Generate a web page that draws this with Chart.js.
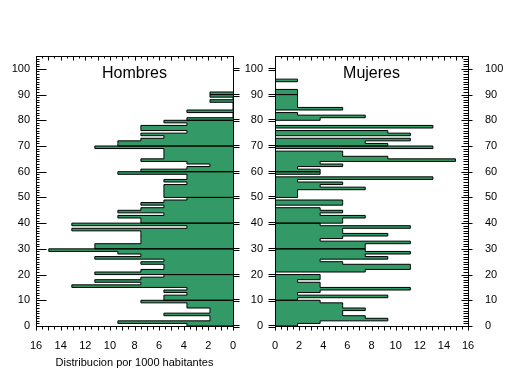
<!DOCTYPE html>
<html lang="es">
<head>
<meta charset="UTF-8">
<title>Piramide de poblacion</title>
<script src="https://cdn.jsdelivr.net/npm/chart.js"></script>
<style>
  body { margin: 0; background: #fff; }
  #wrap { position: relative; width: 509px; height: 376px; }
  canvas { position: absolute; top: 0; }
  #cHombres { left: 0; }
  #cMujeres { left: 236px; }
</style>
</head>
<body>
<div id="wrap">
  <canvas id="cHombres" width="250" height="376"></canvas>
  <canvas id="cMujeres" width="273" height="376"></canvas>
</div>
<script>
// distribucion por 1000 habitantes, una entrada por edad (0, 1, 2 ...)
var hombres = [
  3.74, 9.35, 1.87, 1.87, 5.61, 1.87, 1.87, 3.74, 3.74, 7.48,
  5.61, 5.61, 3.74, 5.61, 3.74, 13.09, 7.48, 11.22, 7.48, 5.61,
  11.22, 7.48, 5.61, 5.61, 7.48, 5.61, 11.22, 7.48, 9.35, 14.96,
  11.22, 11.22, 7.48, 7.48, 7.48, 7.48, 7.48, 13.09, 3.74, 13.09,
  7.48, 7.48, 9.35, 5.61, 9.35, 7.48, 5.61, 7.48, 5.61, 3.74,
  5.61, 5.61, 5.61, 5.61, 5.61, 3.74, 5.61, 3.74, 3.74, 9.35,
  7.48, 3.74, 1.87, 3.74, 7.48, 5.61, 5.61, 5.61, 5.61, 11.22,
  9.35, 9.35, 7.48, 5.61, 7.48, 3.74, 7.48, 7.48, 3.74, 5.61,
  3.74, 0, 0, 3.74, 0, 0, 0, 1.87, 0, 1.87,
  1.87
];
var mujeres = [
  1.87, 3.74, 9.35, 7.48, 5.61, 5.61, 7.48, 5.61, 5.61, 3.74,
  1.87, 9.35, 1.87, 3.74, 11.22, 3.74, 3.74, 1.87, 3.74, 3.74,
  0, 7.48, 11.22, 11.22, 5.61, 3.74, 9.35, 7.48, 11.22, 7.48,
  7.48, 7.48, 11.22, 3.74, 5.61, 9.35, 5.61, 5.61, 11.22, 3.74,
  5.61, 5.61, 7.48, 3.74, 5.61, 3.74, 0, 5.61, 5.61, 0,
  1.87, 1.87, 1.87, 7.48, 3.74, 5.61, 1.87, 13.09, 0, 3.74,
  3.74, 1.87, 5.61, 3.74, 14.96, 9.35, 5.61, 5.61, 0, 13.09,
  9.35, 7.48, 11.22, 0, 11.22, 9.35, 0, 13.09, 0, 0,
  3.74, 7.48, 1.87, 0, 5.61, 1.87, 1.87, 1.87, 1.87, 1.87,
  1.87, 1.87, 0, 0, 0, 1.87
];

var VERDE = '#339966';
var FUENTE = "'Liberation Sans', Arial, sans-serif";

Chart.defaults.font.family = FUENTE;
Chart.defaults.font.size = 11;
Chart.defaults.color = '#000';

// contorno escalonado; vuelve al eje en cada decada para marcar la linea
function escalones(valores) {
  var pts = [{ x: 0, y: 0 }];
  valores.forEach(function (v, edad) {
    if (edad > 0 && edad % 10 === 0) pts.push({ x: 0, y: edad });
    pts.push({ x: v, y: edad });
  });
  pts.push({ x: 0, y: valores.length });
  return pts;
}

// marco y marcas de los ejes
function marco(lados) {
  return {
    id: 'marco',
    afterDraw: function (chart) {
      var ctx = chart.ctx;
      var a = chart.chartArea;
      var ys = chart.scales.y, xs = chart.scales.x;
      var L = Math.round(a.left) + 0.5, R = Math.round(a.right) + 0.5;
      var T = Math.round(a.top) + 0.5, B = Math.round(a.bottom) + 0.5;
      ctx.save();
      ctx.strokeStyle = '#000';
      ctx.lineWidth = 1;
      ctx.strokeRect(L, T, R - L, B - T);
      ctx.beginPath();
      for (var v = 0; v <= 105; v++) {
        var p = Math.round(ys.getPixelForValue(v)) + 0.5;
        var mayor = v % 10 === 0 && v <= 100;
        lados(v, mayor, L, R).forEach(function (s) {
          (s[2] ? [p - 1, p + 1] : [p]).forEach(function (yy) {
            ctx.moveTo(s[0], yy);
            ctx.lineTo(s[1], yy);
          });
        });
      }
      for (var u = 0; u <= 16; u += 0.5) {
        var q = Math.round(xs.getPixelForValue(u)) + 0.5;
        var entero = u % 1 === 0;
        ctx.moveTo(q, T);
        ctx.lineTo(q, T + (entero ? 4 : 2));
        ctx.moveTo(q, B);
        ctx.lineTo(q, B + (entero ? 4 : 3));
      }
      ctx.stroke();
      ctx.restore();
    }
  };
}

function opciones(titulo, invertido, ejeX, ejesY) {
  return {
    indexAxis: 'y',
    responsive: false,
    animation: false,
    events: [],
    layout: { padding: { left: 0, right: invertido ? 17 : 0, top: 0, bottom: 0 } },
    plugins: {
      legend: { display: false },
      tooltip: { enabled: false },
      title: {
        display: true,
        text: titulo,
        fullSize: false,
        color: '#000',
        font: { size: 16, weight: 'normal', family: FUENTE },
        padding: { top: 64.4, bottom: -27.6 }
      }
    },
    scales: Object.assign({
      x: {
        type: 'linear',
        reverse: invertido,
        min: 0,
        max: 16,
        position: 'bottom',
        grid: { display: false, drawTicks: false, tickLength: 0 },
        border: { display: false },
        ticks: { stepSize: 2, padding: 13, font: { size: 11 } },
        title: ejeX,
        afterFit: function (s) { s.height = 50; }
      }
    }, ejesY)
  };
}

function ejeEdad(pos, ancho, relleno) {
  return {
    type: 'linear',
    position: pos,
    min: 0,
    max: 105,
    grid: { display: false, drawTicks: false, tickLength: 0 },
    border: { display: false },
    ticks: { stepSize: 10, includeBounds: false, padding: relleno, font: { size: 11 } },
    afterFit: function (s) { s.width = ancho; }
  };
}

new Chart(document.getElementById('cHombres'), {
  type: 'line',
  data: {
    datasets: [{
      data: escalones(hombres),
      stepped: 'after',
      borderColor: '#000',
      borderWidth: 1,
      backgroundColor: VERDE,
      fill: 'origin',
      pointRadius: 0
    }]
  },
  options: opciones('Hombres', true,
    { display: true, text: 'Distribucion por 1000 habitantes', font: { size: 11 }, padding: { top: 0, bottom: 6.4 } },
    { y: ejeEdad('left', 36, 6) }),
  plugins: [marco(function (v, mayor, L, R) {
    var s = [[L, L + (mayor ? 10 : 3)]];
    if (mayor) s.push([R, R + 6, true]);
    return s;
  })]
});

new Chart(document.getElementById('cMujeres'), {
  type: 'line',
  data: {
    datasets: [{
      data: escalones(mujeres),
      stepped: 'after',
      borderColor: '#000',
      borderWidth: 1,
      backgroundColor: VERDE,
      fill: 'origin',
      pointRadius: 0
    }]
  },
  options: opciones('Mujeres', false, { display: false },
    { y: ejeEdad('left', 39, 12), y2: ejeEdad('right', 41, 17) }),
  plugins: [marco(function (v, mayor, L, R) {
    var s = [[R - 5, R]];
    if (mayor) {
      s.push([L - 7, L, true]);
      s.push([R - 7, R + 4]);
    }
    return s;
  })]
});
</script>
</body>
</html>
